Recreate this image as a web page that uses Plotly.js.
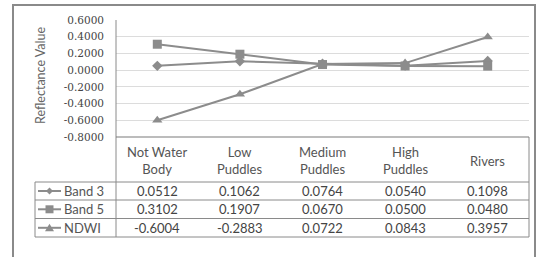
<!DOCTYPE html>
<html><head><meta charset="utf-8">
<script src="https://cdn.plot.ly/plotly-3.0.1.min.js"></script>
<style>html,body{margin:0;padding:0;background:#fff}#c{width:536px;height:257px}</style>
</head><body><div id="c"></div>
<script>
const categories = ["Not Water Body", "Low Puddles", "Medium Puddles", "High Puddles", "Rivers"];
const headerLabels = ["Not Water<br>Body", "Low<br>Puddles", "Medium<br>Puddles", "High<br>Puddles", "Rivers"];
const seriesNames = ["Band 3", "Band 5", "NDWI"];
const band3 = [0.0512, 0.1062, 0.0764, 0.0540, 0.1098];
const band5 = [0.3102, 0.1907, 0.0670, 0.0500, 0.0480];
const ndwi = [-0.6004, -0.2883, 0.0722, 0.0843, 0.3957];
const yTickVals = [0.6, 0.4, 0.2, 0, -0.2, -0.4, -0.6, -0.8];
const yTickText = ["0.6000", "0.4000", "0.2000", "0.0000", "-0.2000", "-0.4000", "-0.6000", "-0.8000"];

const L = 116, R = 529, T = 20, B = 137, W = 536, H = 257;
const px = x => (x - L) / (R - L);
const py = y => (B - y) / (B - T);
const lineCol = "#8c8c8c";
const symbols = ["diamond", "square", "triangle-up"];
const sizes = [8, 9, 9];
const allSeries = [band3, band5, ndwi];

const traces = allSeries.map((s, i) => ({
  x: categories, y: s, type: "scatter", mode: "lines+markers", name: seriesNames[i],
  line: {color: lineCol, width: 2},
  marker: {symbol: symbols[i], size: sizes[i], color: lineCol}
}));

const shapes = [];
const ann = [];
const gray = "#8a8a8a";
function hline(x0, x1, y, c, w) { shapes.push({type: "line", xref: "paper", yref: "paper", x0: px(x0), x1: px(x1), y0: py(y), y1: py(y), line: {color: c || gray, width: w || 1}}); }
function vline(x, y0, y1, c, w) { shapes.push({type: "line", xref: "paper", yref: "paper", x0: px(x), x1: px(x), y0: py(y0), y1: py(y1), line: {color: c || gray, width: w || 1}}); }

// outer border
shapes.push({type: "rect", xref: "paper", yref: "paper", x0: px(13), x1: px(535), y0: py(5), y1: py(258), line: {color: "#8a8a8a", width: 2}});
// table frame
vline(L, T, 237);
vline(R, B, 237);
vline(35, 182, 237);
const rowLines = [182, 200, 218.5, 237];
rowLines.forEach(y => hline(35, R, y));
hline(L, R, B, "#7a7a7a", 1.2);

const font = "Lato, 'Open Sans', sans-serif";
const tcol = "#555";
// y title
ann.push({xref: "paper", yref: "paper", x: px(40), y: py(76), text: "Reflectance Value", textangle: -90, showarrow: false, xanchor: "center", yanchor: "middle", font: {family: font, size: 12.5, color: "#666"}});
// header labels
headerLabels.forEach((h, i) => {
  const cx = L + (R - L) * (i + 0.5) / 5;
  ann.push({xref: "paper", yref: "paper", x: px(cx), y: py(160.5), text: h, showarrow: false, xanchor: "center", yanchor: "middle", font: {family: font, size: 13, color: tcol}});
});
// values
const rowCenters = [191, 209.3, 227.8];
allSeries.forEach((s, r) => {
  s.forEach((v, i) => {
    const cx = L + (R - L) * (i + 0.5) / 5;
    ann.push({xref: "paper", yref: "paper", x: px(cx), y: py(rowCenters[r]), text: v.toFixed(4), showarrow: false, xanchor: "center", yanchor: "middle", font: {family: font, size: 13, color: "#444"}});
  });
  // legend key
  const yc = rowCenters[r];
  hline(38, 61, yc, lineCol, 2);
  const mx = 49.5;
  if (r === 0) {
    shapes.push({type: "path", xref: "paper", yref: "paper", path: `M ${px(mx-3.5)},${py(yc)} L ${px(mx)},${py(yc-3.5)} L ${px(mx+3.5)},${py(yc)} L ${px(mx)},${py(yc+3.5)} Z`, fillcolor: lineCol, line: {width: 0}});
  } else if (r === 1) {
    shapes.push({type: "rect", xref: "paper", yref: "paper", x0: px(mx-4), x1: px(mx+4), y0: py(yc-4), y1: py(yc+4), fillcolor: lineCol, line: {width: 0}});
  } else {
    shapes.push({type: "path", xref: "paper", yref: "paper", path: `M ${px(mx-4.5)},${py(yc+3.5)} L ${px(mx)},${py(yc-4)} L ${px(mx+4.5)},${py(yc+3.5)} Z`, fillcolor: lineCol, line: {width: 0}});
  }
  ann.push({xref: "paper", yref: "paper", x: px(62), y: py(yc), text: seriesNames[r], showarrow: false, xanchor: "left", yanchor: "middle", font: {family: font, size: 13, color: tcol}});
});

const layout = {
  width: W, height: H,
  margin: {l: L, r: W - R, t: T, b: H - B, pad: 0},
  paper_bgcolor: "#fff", plot_bgcolor: "#fff",
  showlegend: false,
  xaxis: {type: "category", range: [-0.5, 4.5], showticklabels: false, showgrid: false, zeroline: false, showline: false, ticks: ""},
  yaxis: {range: [-0.8, 0.6], tickvals: yTickVals, ticktext: yTickText, showgrid: true, gridcolor: "#dcdcdc", gridwidth: 1, zeroline: false, showline: false, ticks: "", ticklen: 0, ticklabelstandoff: 11,
    tickfont: {family: "'DejaVu Serif', serif", size: 10.5, color: "#444"}},
  shapes: shapes, annotations: ann
};
Plotly.newPlot("c", traces, layout, {displayModeBar: false, staticPlot: true});
</script></body></html>
